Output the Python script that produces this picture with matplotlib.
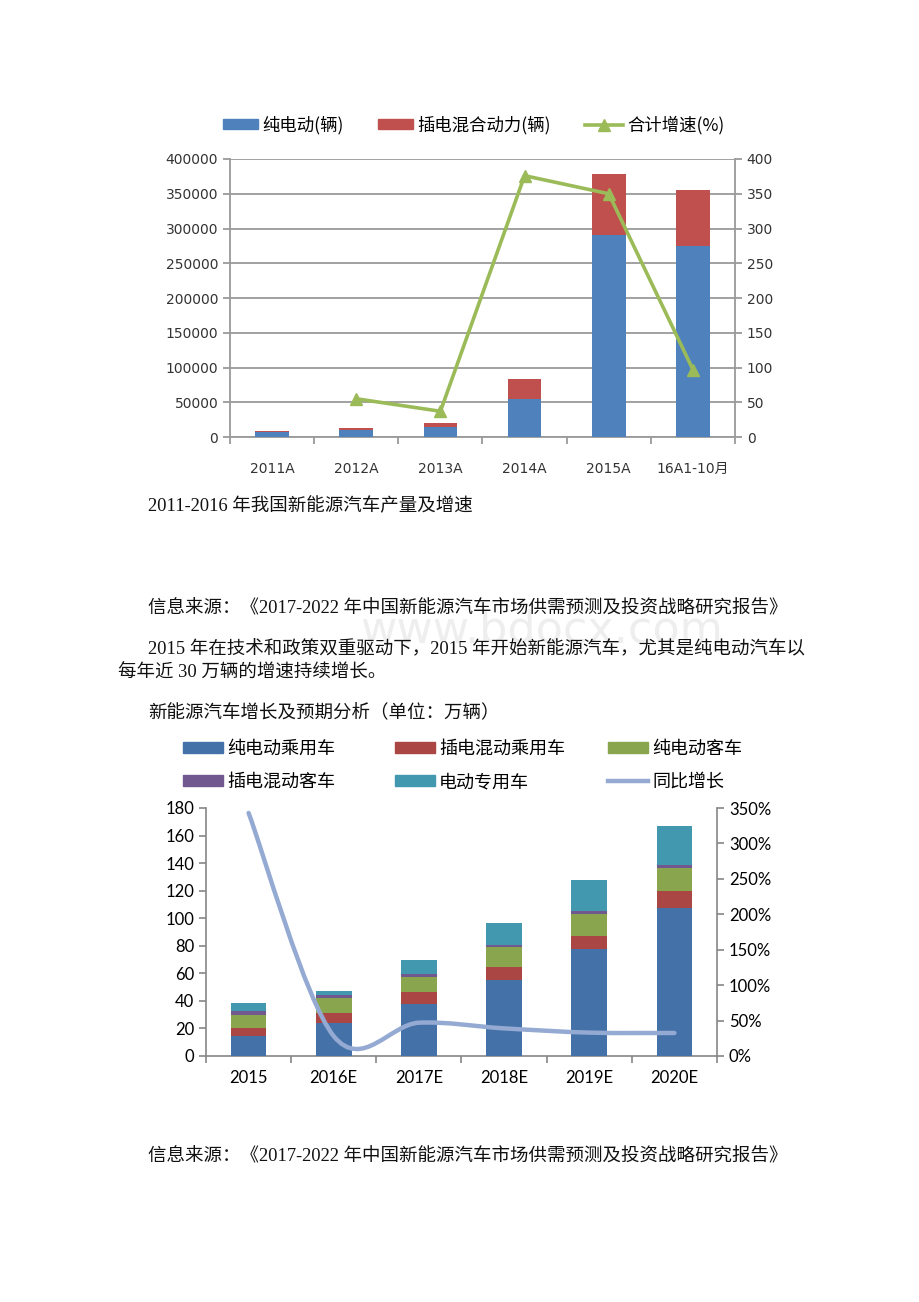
import numpy as np
import matplotlib
matplotlib.use("Agg")
import matplotlib.pyplot as plt
from matplotlib.path import Path
from matplotlib.patches import PathPatch, Patch
from matplotlib.lines import Line2D

plt.rcParams['font.family'] = ['Liberation Serif', 'Noto Sans CJK SC']

# chart 1: production 2011-2016
years1 = ['2011A', '2012A', '2013A', '2014A', '2015A', '16A1-10月']
ev1 = [7500, 10500, 14500, 54000, 291000, 275000]
phev1 = [1500, 2500, 5000, 30000, 88000, 80000]
growth1 = [np.nan, 55, 37, 376, 350, 97]
labels1 = ['纯电动(辆)', '插电混合动力(辆)', '合计增速(%)']

# chart 2: forecast (万辆)
years2 = ['2015', '2016E', '2017E', '2018E', '2019E', '2020E']
bev_car = [14.8, 24.0, 37.4, 55.3, 77.4, 107.2]
phev_car = [5.4, 7.3, 8.7, 9.5, 9.9, 12.2]
bev_bus = [9.3, 10.9, 11.4, 14.0, 16.0, 17.4]
phev_bus = [3.0, 2.0, 1.7, 1.7, 1.7, 2.0]
special = [5.9, 3.1, 10.4, 15.8, 22.4, 27.9]
yoy = [3.43, 0.28, 0.47, 0.39, 0.33, 0.325]
labels2 = ['纯电动乘用车', '插电混动乘用车', '纯电动客车', '插电混动客车', '电动专用车', '同比增长']

W, H = 920, 1302
fig = plt.figure(figsize=(W / 100, H / 100), dpi=100)


def box(x0, y0, x1, y1):
    # pixel box (top-left origin) -> figure fraction rect
    return [x0 / W, 1 - y1 / H, (x1 - x0) / W, (y1 - y0) / H]


def ftext(x, y, s, **kw):
    fig.text(x / W, 1 - y / H, s, va='center', **kw)


def one_legend(handle, label, x, y, size, hlen, hh=0.6):
    fig.legend([handle], [label], loc='center left', bbox_to_anchor=(x / W, 1 - y / H),
               frameon=False, prop={'family': 'Noto Sans CJK SC', 'size': size},
               handlelength=hlen, handleheight=hh, handletextpad=0.25,
               borderpad=0, borderaxespad=0)


# ---------- chart 1 ----------
c_blue, c_red, c_green = '#4F81BD', '#C0504D', '#9BBB59'
grid_c = '#9a9a9a'
ax1 = fig.add_axes(box(230, 159, 735, 437))
x1 = np.arange(len(years1))
ax1.bar(x1, ev1, width=0.4, color=c_blue, zorder=3)
ax1.bar(x1, phev1, width=0.4, bottom=ev1, color=c_red, zorder=3)
ax1.set_xlim(-0.5, 5.5)
ax1.set_ylim(0, 400000)
ax1.set_yticks(np.arange(0, 400001, 50000))
ax1.yaxis.grid(True, color=grid_c, lw=1.3, zorder=0)
for s in ['top', 'right']:
    ax1.spines[s].set_visible(False)
for s in ['left', 'bottom']:
    ax1.spines[s].set_color(grid_c)
    ax1.spines[s].set_linewidth(1.3)
ax1.set_xticks(x1)
ax1.set_xticklabels(years1, family=['DejaVu Sans', 'Noto Sans CJK SC'])
ax1.set_xticks(np.arange(-0.5, 6, 1), minor=True)
ax1.tick_params(axis='x', which='major', length=0, pad=18, labelsize=10, colors='#333333')
ax1.tick_params(axis='x', which='minor', length=5, color=grid_c, width=1.3)
ax1.tick_params(axis='y', length=5, color=grid_c, width=1.3, labelsize=10, labelcolor='#333333')
for lab in ax1.get_yticklabels():
    lab.set_family('DejaVu Sans')

ax1b = ax1.twinx()
ax1b.plot(x1, growth1, color=c_green, lw=2.6, marker='^', ms=9, zorder=5)
ax1b.set_ylim(0, 400)
ax1b.set_yticks(np.arange(0, 401, 50))
for s in ['top', 'left', 'bottom']:
    ax1b.spines[s].set_visible(False)
ax1b.spines['right'].set_color(grid_c)
ax1b.spines['right'].set_linewidth(1.3)
ax1b.tick_params(axis='y', length=5, color=grid_c, width=1.3, labelsize=10, labelcolor='#333333')
for lab in ax1b.get_yticklabels():
    lab.set_family('DejaVu Sans')

h1 = [Patch(color=c_blue), Patch(color=c_red),
      Line2D([], [], color=c_green, lw=2.6, marker='^', ms=9)]
for h, lab, xs in zip(h1, labels1, [223, 378, 585]):
    one_legend(h, lab, xs, 125, 12.5, 2.0 if xs < 500 else 2.2, 0.45)

# ---------- page text ----------
body = dict(fontsize=13.3, color='#111111')
ftext(148, 506, '2011-2016 年我国新能源汽车产量及增速', **body)
ftext(148, 609, '信息来源：《2017-2022 年中国新能源汽车市场供需预测及投资战略研究报告》', **body)
ftext(148, 649, '2015 年在技术和政策双重驱动下，2015 年开始新能源汽车，尤其是纯电动汽车以', **body)
ftext(118, 673, '每年近 30 万辆的增速持续增长。', **body)
ftext(148, 712, '新能源汽车增长及预期分析（单位：万辆）', **body)
ftext(148, 1157, '信息来源：《2017-2022 年中国新能源汽车市场供需预测及投资战略研究报告》', **body)
ftext(360, 630, 'www.bdocx.com', fontsize=32, color='#eeeeee', family='DejaVu Sans', zorder=0)

# ---------- chart 2 ----------
cols2 = ['#4471A8', '#AA4643', '#89A54E', '#71588F', '#4198AF']
line_c = '#94AAD2'
axis_c = '#868686'
ax2 = fig.add_axes(box(206, 808, 717, 1056))
x2 = np.arange(len(years2))
bottom = np.zeros(len(years2))
for vals, c in zip([bev_car, phev_car, bev_bus, phev_bus, special], cols2):
    ax2.bar(x2, vals, width=0.42, bottom=bottom, color=c, zorder=3)
    bottom += np.array(vals)
ax2.set_xlim(-0.5, 5.5)
ax2.set_ylim(0, 180)
ax2.set_yticks(np.arange(0, 181, 20))
for s in ['top', 'right']:
    ax2.spines[s].set_visible(False)
for s in ['left', 'bottom']:
    ax2.spines[s].set_color(axis_c)
    ax2.spines[s].set_linewidth(1.2)
ax2.set_xticks(x2)
ax2.set_xticklabels(years2)
ax2.set_xticks(np.arange(-0.5, 6, 1), minor=True)
ax2.tick_params(axis='x', which='major', length=0, pad=10, labelsize=12)
ax2.tick_params(axis='x', which='minor', length=5, color=axis_c, width=1.2)
ax2.tick_params(axis='y', length=5, color=axis_c, width=1.2, labelsize=12)
for lab in ax2.get_xticklabels() + ax2.get_yticklabels():
    lab.set_family('Lato')

ax2b = ax2.twinx()
ax2b.set_ylim(0, 3.5)
ax2b.set_yticks(np.arange(0, 3.51, 0.5))
ax2b.set_yticklabels([f'{int(round(v * 100))}%' for v in np.arange(0, 3.51, 0.5)], family='Lato')
for s in ['top', 'left', 'bottom']:
    ax2b.spines[s].set_visible(False)
ax2b.spines['right'].set_color(axis_c)
ax2b.spines['right'].set_linewidth(1.2)
ax2b.tick_params(axis='y', length=5, color=axis_c, width=1.2, labelsize=12)

# smoothed line (bezier control points from neighbouring data points)
pts = np.column_stack([x2, yoy])
verts = [pts[0]]
codes = [Path.MOVETO]
n = len(pts)
for i in range(n - 1):
    p0 = pts[max(i - 1, 0)]
    p1, p2 = pts[i], pts[i + 1]
    p3 = pts[min(i + 2, n - 1)]
    verts += [p1 + (p2 - p0) / 6, p2 - (p3 - p1) / 6, p2]
    codes += [Path.CURVE4] * 3
ax2b.add_patch(PathPatch(Path(verts, codes), fill=False, edgecolor=line_c,
                         lw=3.2, capstyle='round', zorder=5))

h2 = [Patch(color=c) for c in cols2] + [Line2D([], [], color=line_c, lw=3.2)]
col_x = [183, 395, 608]
row_y = [749, 782]
for i, (h, lab) in enumerate(zip(h2, labels2)):
    one_legend(h, lab, col_x[i % 3], row_y[i // 3], 13, 2.2, 0.6)

fig.savefig('out.png', dpi=100, facecolor='white')
